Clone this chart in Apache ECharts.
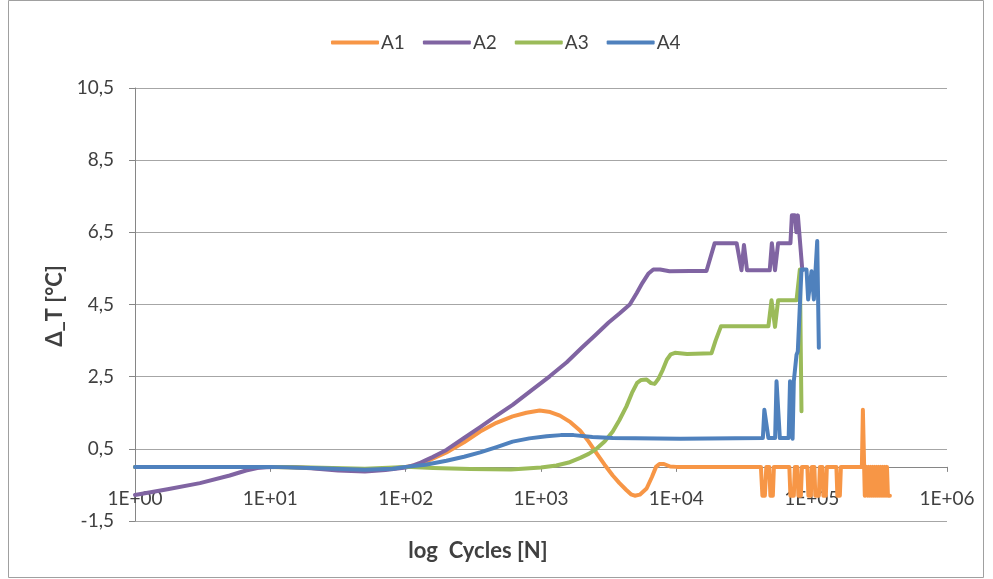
<!DOCTYPE html>
<html>
<head>
<meta charset="utf-8">
<script src="https://cdn.jsdelivr.net/npm/echarts@6/dist/echarts.min.js"></script>
<style>
html,body{margin:0;padding:0;background:#fff;}
#chart{width:993px;height:579px;}
</style>
</head>
<body>
<div id="chart"></div>
<script>
// ---- data ----
const seriesNames = ['A1', 'A2', 'A3', 'A4'];
const xTickLabels = ['1E+00', '1E+01', '1E+02', '1E+03', '1E+04', '1E+05', '1E+06'];
const yTickLabels = ['-1,5', '0,5', '2,5', '4,5', '6,5', '8,5', '10,5'];

const a1 = [[1,0],[10,0],[15,-0.01],[20,-0.03],[30,-0.06],[50,-0.08],[70,-0.06],[85,-0.03],[100,0],[126,0.07],[151,0.19],[200,0.4],
  [270,0.68],[355,0.98],[468,1.22],[617,1.4],[780,1.5],[977,1.56],[1170,1.52],[1380,1.42],[1650,1.24],[1950,1.0],
  [2250,0.7],[2570,0.38],[2950,0.06],[3390,-0.24],[3800,-0.45],[4270,-0.64],[4620,-0.76],[4930,-0.8],[5370,-0.77],
  [6030,-0.6],[6600,-0.28],[7080,0],[7500,0.08],[8100,0.08],[9000,0.01],[10000,0],
  [42170,0],[43250,-0.8],[45100,-0.8],[46240,0],[48640,0],[49550,-0.8],[51650,-0.8],[52600,0],
  [68390,0],[69660,-0.8],[73790,-0.8],[75160,0],[78340,0],[79800,-0.8],[83180,-0.8],[84720,0],
  [92900,0],[94620,-0.8],[98620,-0.8],[100300,0],[104700,0],[106400,-0.8],[113000,-0.8],[115000,0],
  [120000,0],[122000,-0.8],[127300,-0.8],[129500,0],[152300,0],[154900,-0.8],[161500,-0.8],[164400,0],
  [235000,0],[239000,1.58],[243000,1.58],[247000,-0.8],[251300,-0.8],[255600,0],[260000,-0.8],[264500,0],[269000,-0.8],
  [273700,0],[278500,-0.8],[283300,0],[288200,-0.8],[293200,0],[298300,-0.8],[303500,0],[308700,-0.8],[314100,0],
  [319500,-0.8],[325000,0],[330700,-0.8],[336400,0],[342200,-0.8],[348200,0],[354200,-0.8],[360100,0],[366000,-0.8],[378600,-0.8]];

const a2 = [[1,-0.78],[1.74,-0.62],[3.02,-0.45],[5.01,-0.24],[6.61,-0.1],[8,-0.03],[9.33,-0.01],[12.6,0],[20,-0.04],[31.6,-0.1],
  [50,-0.13],[71,-0.09],[100,-0.02],[115,0.05],[126,0.1],[140,0.18],[158,0.27],[178,0.37],[200,0.47],[270,0.8],[355,1.1],
  [470,1.42],[617,1.72],[850,2.12],[1160,2.51],[1550,2.9],[2000,3.3],[2550,3.67],[3160,4.0],[3800,4.25],[4530,4.5],
  [5100,4.82],[5620,5.1],[6200,5.35],[6760,5.47],[7590,5.47],[8910,5.42],[12600,5.43],[16700,5.43],[19200,6.2],
  [27900,6.2],[30300,5.45],[31600,6.15],[33300,5.45],[49000,5.45],[50800,6.2],[53600,5.45],[56500,6.2],
  [69700,6.2],[71400,6.97],[75200,6.97],[77100,6.5],[79100,6.97],[81800,6.97],[85300,5.45]];

const a3 = [[1,0],[10,0],[20,-0.02],[50,-0.05],[100,0],[160,-0.03],[300,-0.06],[600,-0.07],[1000,-0.02],[1300,0.04],[1600,0.12],[1950,0.25],
  [2250,0.36],[2570,0.5],[2950,0.7],[3390,0.98],[3800,1.3],[4270,1.67],[4700,2.05],[5130,2.33],[5500,2.41],[6030,2.42],[6500,2.32],[6920,2.3],[7400,2.45],[7940,2.69],[8510,2.97],[9100,3.12],[9770,3.16],
  [12000,3.13],[18200,3.15],[19500,3.5],[21400,3.9],[47900,3.9],[50500,4.62],[53600,3.88],[56500,4.62],
  [77300,4.62],[81800,5.47],[84100,1.54]];

const a4 = [[1,0],[10,0],[20,-0.03],[50,-0.08],[80,-0.05],[100,0],[140,0.06],[200,0.17],[270,0.28],[355,0.4],[470,0.55],[617,0.7],[820,0.79],[1100,0.85],[1400,0.88],[1740,0.88],
  [2400,0.83],[3390,0.8],[10700,0.78],[43600,0.8],[44700,1.58],[47900,0.8],[53700,0.8],[55000,2.37],[58200,0.8],[67600,0.8],
  [69200,2.37],[72300,0.78],[73800,2.37],[77300,3.11],[79000,3.2],[84100,5.47],[91600,5.47],[94200,4.64],
  [99800,5.42],[103800,4.64],[109900,6.26],[113000,3.3]];

const colors = ['#F79646', '#8064A2', '#9BBB59', '#4F81BD'];

// ---- chart ----
const chart = echarts.init(document.getElementById('chart'), null, {renderer: 'canvas'});
const FONT = 'Lato';
const TXT = '#404040';
const allData = [a1, a2, a3, a4];

const option = {
  animation: false,
  backgroundColor: '#ffffff',
  color: colors,
  textStyle: {fontFamily: FONT},
  grid: {left: 135, right: 46, top: 88, bottom: 58, containLabel: false},
  legend: {
    show: true,
    left: 326, top: 28,
    icon: 'roundRect',
    itemWidth: 48, itemHeight: 4, itemGap: 18,
    textStyle: {fontFamily: FONT, fontSize: 19, color: TXT, padding: [0, 0, 0, -3]},
    data: seriesNames
  },
  xAxis: {
    type: 'log', logBase: 10, min: 1, max: 1000000,
    splitNumber: 6,
    axisLine: {show: true, onZero: true, onZeroAxisIndex: 0, lineStyle: {color: '#868686', width: 1}},
    axisTick: {show: true, inside: false, length: 5, lineStyle: {color: '#868686'}},
    minorTick: {show: false},
    splitLine: {show: false},
    axisLabel: {
      fontFamily: FONT, fontSize: 19, color: TXT, margin: -32,
      showMinLabel: true, showMaxLabel: true,
      formatter: v => xTickLabels[Math.round(Math.log10(v))]
    }
  },
  yAxis: {
    type: 'value', min: -1.5, max: 10.5, interval: 2,
    axisLine: {show: true, lineStyle: {color: '#868686', width: 1}},
    axisTick: {show: true, inside: false, length: 6, lineStyle: {color: '#868686'}},
    splitLine: {show: true, lineStyle: {color: '#a6a6a6', width: 1}},
    axisLabel: {
      fontFamily: FONT, fontSize: 19, color: TXT, margin: 21,
      showMinLabel: true, showMaxLabel: true,
      formatter: v => yTickLabels[Math.round((v + 1.5) / 2)]
    }
  },
  series: allData.map((d, i) => ({
    name: seriesNames[i],
    type: 'line',
    data: d,
    symbol: 'none',
    showSymbol: false,
    smooth: false,
    clip: true,
    lineStyle: {width: 4, color: colors[i], cap: 'round', join: 'round'},
    itemStyle: {color: colors[i]}
  })),
  graphic: [
    {type: 'rect', shape: {x: 8.5, y: 0.5, width: 975, height: 577}, style: {fill: 'none', stroke: '#a0a0a0', lineWidth: 1}, silent: true},
    {type: 'text', x: 55, y: 306, rotation: Math.PI / 2,
     style: {text: 'Δ_T [°C]', font: 'bold 22px ' + FONT, fill: TXT, textAlign: 'center', textVerticalAlign: 'middle'}},
    {type: 'text', x: 478, y: 551,
     style: {text: 'log  Cycles [N]', font: 'bold 22px ' + FONT, fill: TXT, textAlign: 'center', textVerticalAlign: 'middle'}}
  ]
};
chart.setOption(option);
</script>
</body>
</html>
